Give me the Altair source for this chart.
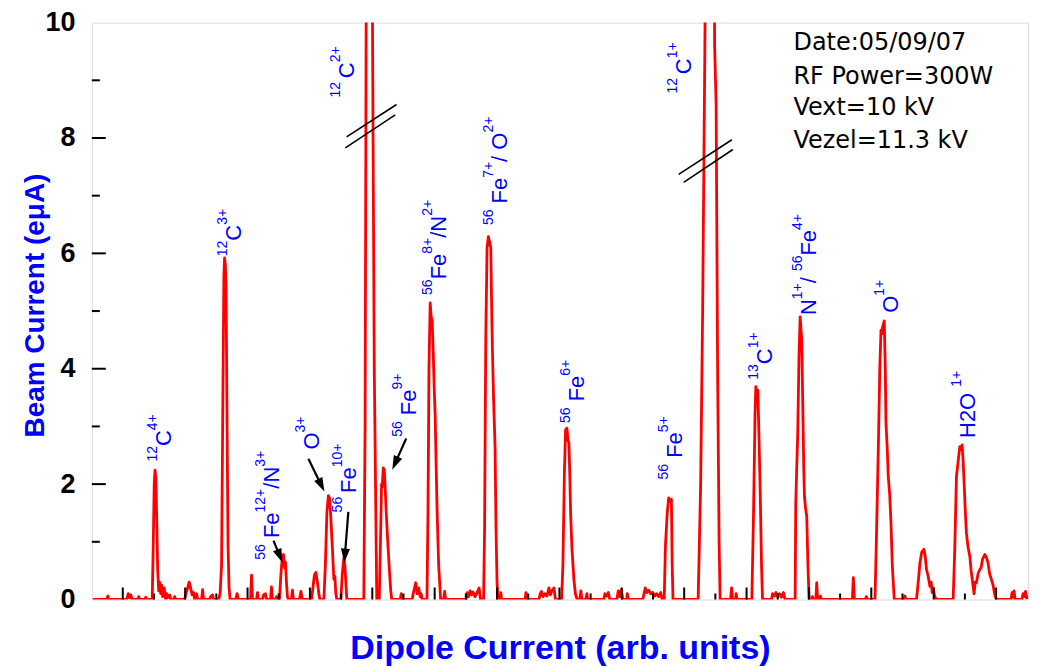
import math
import altair as alt
import pandas as pd

# ---------------- axes / frame ----------------
X_DOMAIN = [92, 1030]          # dipole current, arbitrary units
Y_DOMAIN = [0, 10]             # beam current, eμA
PLOT_W, PLOT_H = 938, 578
PX_PER_X = PLOT_W / (X_DOMAIN[1] - X_DOMAIN[0])
PX_PER_Y = PLOT_H / (Y_DOMAIN[1] - Y_DOMAIN[0])

y_tick_values = [0, 2, 4, 6, 8, 10]
y_major_ticks = [2, 4, 6, 8]
y_minor_ticks = [1, 3, 5, 7, 9]
x_major_ticks = [123, 185.5, 248, 310.5, 373, 435.5, 498, 560.5, 623, 685.5, 748, 810.5, 873, 935.5, 998]
x_minor_ticks = [154.25, 216.75, 279.25, 341.75, 404.25, 466.75, 529.25, 591.75, 654.25, 716.75,
                 779.25, 841.75, 904.25, 966.75]

# ---------------- spectrum trace (dipole current, beam current) ----------------
trace_1 = [
    (93, 0), (107, 0), (108, 0.06), (109, 0), (113, 0),
    (127, 0), (128.5, 0.1), (130, 0.03), (131, 0.08), (132.5, 0),
    (138, 0), (139, 0.05), (140, 0), (145, 0), (146, 0.04), (147, 0),
    (152.5, 0), (153.5, 0.9), (154.5, 2.0), (155.3, 2.24), (156.2, 2.1), (157, 1.4), (158, 0.5),
    (159, 0.15), (160, 0.3), (161, 0.1), (162, 0.25), (163, 0.05), (164.5, 0.2), (166, 0),
    (167, 0.1), (168, 0.03), (170, 0.08), (171, 0), (174, 0), (175, 0.05), (176, 0),
    (185, 0), (186.5, 0.12), (188, 0.2), (189.5, 0.3), (191, 0.2), (192.5, 0.08), (194, 0.12),
    (195, 0), (197, 0.1), (198, 0), (202, 0), (203, 0.17), (204, 0),
    (210, 0), (211, 0.05), (213, 0.08), (214, 0),
    (219, 0), (220.5, 0.1), (222, 0.6), (223.3, 3.5), (224.3, 5.6), (225, 5.92), (225.8, 5.8),
    (226.5, 5.4), (227.5, 3.0), (228.5, 0.9), (229.5, 0.2), (230.5, 0),
    (236, 0), (237.5, 0.1), (239, 0), (251, 0), (252, 0.42), (253, 0),
]
trace_2 = [
    (257, 0), (258, 0.12), (259, 0), (263, 0), (264, 0.08), (266, 0.1), (267, 0),
    (271, 0), (272, 0.22), (273, 0), (276, 0), (277, 0.05), (278, 0),
    (280, 0), (281.5, 0.45), (282.8, 0.72), (284, 0.78), (285, 0.55), (286, 0.65), (287, 0.3),
    (288, 0.05), (289, 0), (292, 0), (293, 0.16), (294, 0), (300, 0), (301.5, 0.14), (303, 0),
    (312, 0), (313.5, 0.2), (315, 0.42), (316.5, 0.47), (318, 0.3), (319.5, 0.1), (320.5, 0),
    (324.5, 0), (326, 0.6), (327.5, 1.5), (329, 1.8), (330.3, 1.75), (331.5, 1.4), (333, 0.9),
    (334.5, 0.35), (335.5, 0.4), (336.5, 0.1), (337.5, 0),
    (341.5, 0), (343, 0.45), (344.5, 0.72), (345.5, 0.6), (346.5, 0.3), (347.5, 0), (350, 0),
    (364.5, 0), (365.8, 3), (367.3, 13), (369.8, 20), (372.3, 13), (375, 4), (377.5, 0),
    (380, 0), (381.2, 1.0), (382.3, 2.0), (383, 1.95), (384, 2.28), (385, 2.25), (386, 1.9),
    (387, 1.5), (388.5, 1.0), (390, 0.55), (391.5, 0.15), (392.5, 0),
    (401, 0), (402, 0.1), (403, 0),
    (413, 0), (414, 0.1), (416.5, 0.29), (418, 0.1), (419.5, 0.2), (421, 0.05), (422, 0.1), (423, 0),
]
trace_3 = [
    (427.8, 0), (428.8, 1.5), (429.8, 4.0), (431, 5.14), (432, 4.9), (433, 4.84), (434.2, 4.2),
    (435, 3.69), (436, 3.2), (437, 2.3), (438, 1.5), (439.5, 0.6), (441.5, 0),
    (444.5, 0), (445.5, 0.14), (446.5, 0),
    (467, 0), (468, 0.12), (469.5, 0.05), (471, 0.15), (472.5, 0.08), (474, 0.13), (476, 0.05),
    (478, 0.12), (480, 0.2), (481.5, 0),
    (484.5, 0), (485.5, 1.2), (486.7, 4.5), (488, 6.1), (489.3, 6.29), (490.5, 6.2), (491.7, 6.1),
    (492.5, 5.2), (493.3, 4.38), (494.5, 3.5), (496, 2.65), (497, 1.2), (498, 0.3), (499, 0),
    (501, 0), (501.8, 0.12), (502.5, 0), (526, 0), (527, 0.12), (528, 0),
    (540, 0), (541, 0.08), (542.5, 0.14), (544, 0.05), (546, 0.1), (548, 0.06), (550, 0.2),
    (551.5, 0.08), (553, 0.15), (555, 0.2), (556.5, 0),
    (562.7, 0), (564, 0.6), (565.5, 2.2), (566.7, 2.94), (568, 2.97), (569.2, 2.75), (570, 2.72),
    (571, 2.1), (571.7, 1.5), (573, 0.9), (575, 0.35), (576.5, 0.1), (578.3, 0),
    (581, 0), (582, 0.15), (583, 0), (587, 0), (588, 0.1), (589, 0),
]
trace_4 = [
    (605, 0), (606, 0.1), (608, 0.06), (609.5, 0.12), (611, 0),
    (618, 0), (619.5, 0.15), (621, 0.05), (622.5, 0.17), (624, 0), (628, 0), (628.5, 0.1), (629.5, 0),
    (644, 0), (645, 0.08), (646.5, 0.2), (648, 0.12), (650, 0.16), (652, 0.1), (654, 0.12),
    (656, 0.06), (658, 0.1), (660, 0.05), (662, 0.12), (663.5, 0),
    (665.5, 0), (666.7, 0.92), (668.5, 1.5), (670, 1.76), (671.3, 1.7), (672.7, 1.74), (673.5, 0.6),
    (674.3, 0),
    (699.5, 0), (702, 2), (704, 5), (707.4, 12), (711.5, 20), (715.6, 12), (716, 9.6), (717.5, 8.6),
    (719, 4), (720.5, 1), (721.5, 0),
    (732, 0), (733, 0.2), (734, 0), (737, 0), (737.5, 0.1), (738.5, 0),
    (753.3, 0), (755, 1.5), (756.5, 3.2), (757.3, 3.69), (758.3, 3.55), (759.3, 3.63), (760.5, 2.8),
    (761.7, 1.85), (763, 0.6), (764, 0),
    (773, 0), (774, 0.1), (776, 0.06), (777.5, 0.12), (779, 0.05), (781, 0.1), (783, 0.04),
    (785, 0.12), (786.5, 0),
]
trace_5 = [
    (796.7, 0), (797.3, 1.67), (798.3, 2.3), (799.3, 2.88), (800.5, 4.2), (801.7, 4.9), (802.5, 4.7),
    (803.3, 4.5), (804.5, 3.2), (805.3, 2.3), (806, 1.79), (807, 1.6), (808.3, 1.44), (809.5, 0.6),
    (810.7, 0),
    (813, 0), (814, 0.05), (815, 0), (817.5, 0), (818.3, 0.29), (819.2, 0), (821, 0), (822, 0.06),
    (823, 0), (854, 0), (855, 0.38), (856, 0), (867, 0), (868, 0.05), (869, 0),
    (876.7, 0), (878.3, 1.2), (880, 2.6), (881.5, 4.0), (882.7, 4.67), (883.5, 4.6), (884.3, 4.72),
    (886, 4.83), (887, 4.0), (887.7, 3.06), (889, 2.6), (890, 2.13), (891.5, 1.8), (892.7, 1.33),
    (894, 0.6), (896, 0),
    (906, 0), (906.7, 0.06), (907.5, 0),
    (918.3, 0), (920, 0.3), (921.7, 0.63), (923.5, 0.82), (925.7, 0.87), (927, 0.75), (928.3, 0.52),
    (930, 0.4), (931.7, 0.23), (933, 0.3), (934, 0.12), (935, 0.2), (936.5, 0.05), (938.3, 0),
    (955, 0), (956.5, 0.8), (958.3, 2.13), (960, 2.4), (961.7, 2.65), (963, 2.6), (964, 2.68),
    (965, 2.4), (966, 2.02), (967, 1.6), (968.3, 1.15), (970, 0.9), (971.7, 0.75), (973, 0.5),
    (975, 0.23), (976, 0.1), (977, 0.3), (978.3, 0.29), (980, 0.45), (981.7, 0.52), (983, 0.55),
    (984.5, 0.7), (986.7, 0.78), (988.5, 0.72), (990, 0.63), (991.5, 0.45), (993.3, 0.35),
    (995, 0.25), (996.5, 0.1), (998.3, 0),
    (1013, 0), (1014, 0.12), (1015, 0.04), (1016, 0.15), (1017, 0),
    (1024, 0), (1025, 0.1), (1026.5, 0.05), (1027.5, 0.14), (1029, 0),
]

# ---------------- peak labels: (x of text baseline, y start, segments; "s" = superscript) ----------------
peak_labels = [
    (171, 2.39, [("12", "s"), ("C", "m"), ("4+", "s")]),
    (241, 5.95, [("12", "s"), ("C", "m"), ("3+", "s")]),
    (280, 0.69, [("56", "s"), (" ", "m"), ("Fe", "m"), ("12+", "s"), ("/N", "m"), ("3+", "s")]),
    (320, 2.60, [("O", "m"), ("3+", "s")]),
    (357, 1.51, [("56", "s"), (" ", "s"), ("Fe", "m"), ("10+", "s")]),
    (417, 2.82, [("56", "s"), (" ", "m"), ("Fe", "m"), ("9+", "s")]),
    (447, 5.28, [("56", "s"), ("Fe", "m"), ("8+", "s"), ("/N", "m"), ("2+", "s")]),
    (508, 6.49, [("56", "s"), (" ", "m"), ("Fe", "m"), ("7+", "s"), ("/ O", "m"), ("2+", "s")]),
    (585, 3.06, [("56", "s"), (" ", "m"), ("Fe", "m"), ("6+", "s")]),
    (683, 2.08, [("56", "s"), (" ", "m"), ("Fe", "m"), ("5+", "s")]),
    (355, 8.70, [("12", "s"), (" ", "s"), ("C", "m"), ("2+", "s")]),
    (692, 8.77, [("12", "s"), (" ", "s"), ("C", "m"), ("1+", "s")]),
    (773, 3.81, [("13", "s"), ("C", "m"), ("1+", "s")]),
    (818, 4.93, [("N", "m"), ("1+", "s"), ("/ ", "m"), ("56", "s"), ("Fe", "m"), ("4+", "s")]),
    (900, 4.97, [("O", "m"), ("1+", "s")]),
    (977, 2.80, [("H2O", "m"), (" ", "m"), ("1+", "s")]),
]

# arrows: (x start, y start, x tip, y tip)
arrows = [
    (274, 1.02, 283, 0.64),
    (309, 2.44, 325, 1.87),
    (349, 1.52, 345, 0.64),
    (407, 2.79, 393, 2.25),
]

# axis-break marks "//": (x1, y1, x2, y2)
break_marks = [
    (347.3, 8.02, 397.3, 8.58),
    (346.0, 7.83, 396.0, 8.40),
    (680.0, 7.37, 733.3, 7.97),
    (685.0, 7.23, 734.3, 7.80),
]

info_lines = ["Date:05/09/07", "RF Power=300W", "Vext=10 kV", "Vezel=11.3 kV"]
info_x = 795
info_y = [9.52, 8.94, 8.39, 7.83]

# ---------------- styling ----------------
BLUE = "#0000ff"
RED = "#ff0000"
FONT = "Liberation Sans"
MAIN_SIZE, SUP_SIZE, SUP_RAISE = 22, 14, 14
ADV = {"0": .556, "1": .556, "2": .556, "3": .556, "4": .556, "5": .556, "6": .556, "7": .556,
       "8": .556, "9": .556, "+": .584, "C": .722, "F": .611, "e": .556, "N": .722, "O": .778,
       "/": .278, "H": .722, " ": .278}


def text_width(txt, size):
    return sum(ADV.get(c, 0.6) for c in txt) * size


# ---------------- data frames ----------------
pts = trace_1 + trace_2 + trace_3 + trace_4 + trace_5
trace_df = pd.DataFrame({"x": [p[0] for p in pts], "y": [p[1] for p in pts], "o": list(range(len(pts)))})

label_rows = []
for xb, y0, segs in peak_labels:
    pos = 0.0
    for txt, kind in segs:
        size = SUP_SIZE if kind == "s" else MAIN_SIZE
        if txt.strip():
            raise_px = SUP_RAISE if kind == "s" else 0
            label_rows.append({"x": xb - raise_px / PX_PER_X, "y": y0 + pos / PX_PER_Y,
                               "t": txt, "s": size})
        pos += text_width(txt, size)
label_df = pd.DataFrame(label_rows)

arrow_rows, head_rows = [], []
HEAD_LEN = 14
for x1, y1, x2, y2 in arrows:
    dxp = (x2 - x1) * PX_PER_X
    dyp = -(y2 - y1) * PX_PER_Y
    L = math.hypot(dxp, dyp)
    ux, uy = dxp / L, dyp / L
    ang = math.degrees(math.atan2(dxp, -dyp)) % 360
    end_x = x2 - ux * (HEAD_LEN - 3) / PX_PER_X
    end_y = y2 + uy * (HEAD_LEN - 3) / PX_PER_Y
    arrow_rows.append({"x": x1, "y": y1, "x2": end_x, "y2": end_y})
    head_rows.append({"x": x2 - ux * HEAD_LEN / 2 / PX_PER_X,
                      "y": y2 + uy * HEAD_LEN / 2 / PX_PER_Y, "a": ang})
arrow_df = pd.DataFrame(arrow_rows)
head_df = pd.DataFrame(head_rows)

brk_df = pd.DataFrame(break_marks, columns=["x", "y", "x2", "y2"])
info_df = pd.DataFrame({"x": [info_x] * len(info_lines), "y": info_y, "t": info_lines})

xmaj_df = pd.DataFrame({"x": x_major_ticks, "y": 0.0, "y2": 12 / PX_PER_Y})
xmin_df = pd.DataFrame({"x": x_minor_ticks, "y": 0.0, "y2": 6 / PX_PER_Y})
ymaj_df = pd.DataFrame({"y": y_major_ticks, "x": X_DOMAIN[0], "x2": X_DOMAIN[0] + 14 / PX_PER_X})
ymin_df = pd.DataFrame({"y": y_minor_ticks, "x": X_DOMAIN[0], "x2": X_DOMAIN[0] + 8 / PX_PER_X})

# ---------------- chart ----------------
xs = alt.Scale(domain=X_DOMAIN, nice=False, zero=False)
ys = alt.Scale(domain=Y_DOMAIN, nice=False, zero=False)

x_axis = alt.Axis(title="Dipole Current (arb. units)", labels=False, ticks=False, domain=False,
                  grid=False, titleFont=FONT, titleFontSize=34, titleFontWeight="bold",
                  titleColor=BLUE, titleBaseline="alphabetic", titleX=PLOT_W / 2, titleY=59)
y_axis = alt.Axis(title="Beam Current (eμA)", values=y_tick_values, format="d", ticks=False, tickSize=0,
                  domain=False, grid=False, labelFont=FONT, labelFontSize=27, labelFontWeight="bold",
                  labelColor="black", labelPadding=17, labelFlush=False,
                  titleFont=FONT, titleFontSize=28, titleFontWeight="bold", titleColor=BLUE,
                  titleAngle=270, titleBaseline="alphabetic", titleAlign="center",
                  titleX=-48, titleY=283)

line = alt.Chart(trace_df).mark_line(color=RED, strokeWidth=2.8, clip=True, strokeJoin="round").encode(
    x=alt.X("x:Q", scale=xs, axis=x_axis),
    y=alt.Y("y:Q", scale=ys, axis=y_axis),
    order="o:Q",
)

xt1 = alt.Chart(xmaj_df).mark_rule(color="black", strokeWidth=2).encode(
    x=alt.X("x:Q", scale=xs), y=alt.Y("y:Q", scale=ys), y2="y2:Q")
xt2 = alt.Chart(xmin_df).mark_rule(color="black", strokeWidth=2).encode(
    x=alt.X("x:Q", scale=xs), y=alt.Y("y:Q", scale=ys), y2="y2:Q")
yt1 = alt.Chart(ymaj_df).mark_rule(color="black", strokeWidth=2).encode(
    x=alt.X("x:Q", scale=xs), x2="x2:Q", y=alt.Y("y:Q", scale=ys))
yt2 = alt.Chart(ymin_df).mark_rule(color="black", strokeWidth=2).encode(
    x=alt.X("x:Q", scale=xs), x2="x2:Q", y=alt.Y("y:Q", scale=ys))

brk = alt.Chart(brk_df).mark_rule(color="black", strokeWidth=1.6).encode(
    x=alt.X("x:Q", scale=xs), x2="x2:Q", y=alt.Y("y:Q", scale=ys), y2="y2:Q")

arr = alt.Chart(arrow_df).mark_rule(color="black", strokeWidth=2.2).encode(
    x=alt.X("x:Q", scale=xs), x2="x2:Q", y=alt.Y("y:Q", scale=ys), y2="y2:Q")
heads = alt.Chart(head_df).mark_point(
    shape="M0,-1L0.65,1L-0.65,1Z", filled=True, color="black", opacity=1, size=HEAD_LEN ** 2
).encode(x=alt.X("x:Q", scale=xs), y=alt.Y("y:Q", scale=ys), angle=alt.Angle("a:Q", scale=None))

labels = alt.Chart(label_df).mark_text(
    angle=270, align="left", baseline="alphabetic", color=BLUE, font=FONT
).encode(x=alt.X("x:Q", scale=xs), y=alt.Y("y:Q", scale=ys), text="t:N",
         size=alt.Size("s:Q", scale=None))

info = alt.Chart(info_df).mark_text(
    align="left", baseline="alphabetic", color="black", font="DejaVu Sans", fontSize=24
).encode(x=alt.X("x:Q", scale=xs), y=alt.Y("y:Q", scale=ys), text="t:N")

chart = alt.layer(line, xt1, xt2, yt1, yt2, brk, arr, heads, labels, info).properties(
    width=PLOT_W, height=PLOT_H,
    autosize=alt.AutoSizeParams(type="none"),
    padding={"left": 84, "top": 14, "right": 4, "bottom": 66},
).configure_view(stroke="black", strokeWidth=2).configure(background="white")

chart.save("out.html", embed_options={"renderer": "svg", "actions": False})
